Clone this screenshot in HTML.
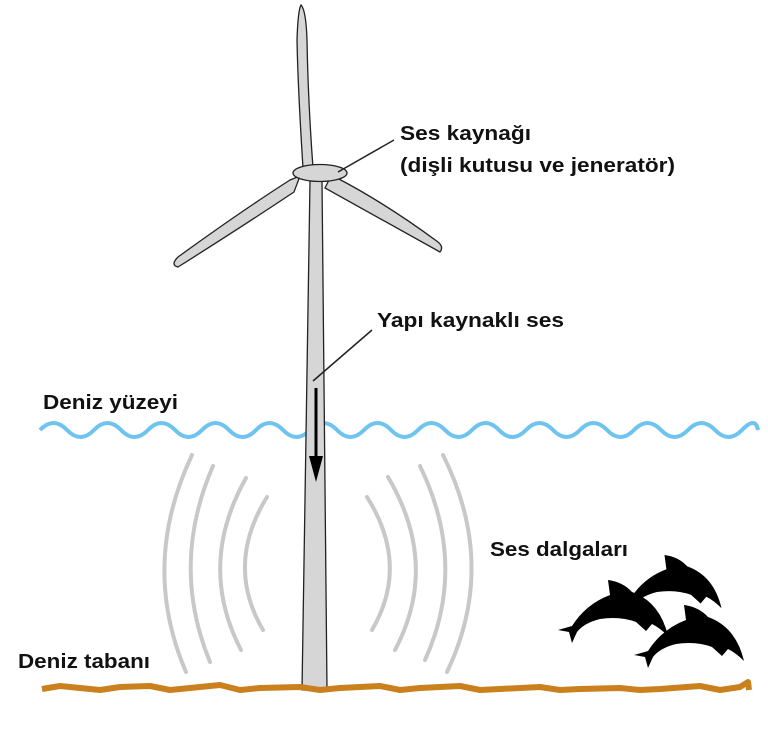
<!DOCTYPE html>
<html><head><meta charset="utf-8"><style>
html,body{margin:0;padding:0;background:#fff;}
svg{display:block}
text{font-family:"Liberation Sans",sans-serif;font-weight:bold;font-size:20px;fill:#111}
</style></head><body>
<svg width="768" height="733" viewBox="0 0 768 733" xmlns="http://www.w3.org/2000/svg">
<defs>
<path id="dol" d="M0,50 L14,46 Q28,24 52,15 L50,0 Q65,2 74,12 Q102,22 110,56 Q102,48 94,44 L88,51 L78,42 Q62,36 42,39 Q26,43 19,52 L14,63 L11,52 Z" fill="#000"/>
</defs>
<path d="M40,430 q13.5,-14 27,0 t27,0 t27,0 t27,0 t27,0 t27,0 t27,0 t27,0 t27,0 t27,0 t27,0 t27,0 t27,0 t27,0 t27,0 t27,0 t27,0 t27,0 t27,0 t27,0 t27,0 t27,0 t27,0 t27,0 t27,0 t27,0 t16,0" fill="none" stroke="#6ec3ef" stroke-width="4"/>
<g fill="none" stroke="#c8c8c8" stroke-width="4" stroke-linecap="round">
<path d="M192,455 Q140,565 186,672"/>
<path d="M213,466 Q170,565 210,662"/>
<path d="M246,478 Q197,565 241,650"/>
<path d="M267,497 Q225,565 263,630"/>
<path d="M367,497 Q410,565 372,630"/>
<path d="M388,477 Q440,565 395,650"/>
<path d="M420,466 Q468,565 425,660"/>
<path d="M443,455 Q498,565 447,672"/>
</g>
<g fill="#d6d6d6" stroke="#222" stroke-width="1.3">
<path d="M303,168 Q298,90 297,40 Q298,10 301,5 Q306,10 307,40 Q308,100 313,168 Z"/>
<path d="M300,176 L294,192 Q240,228 178,267 Q170,265 178,257 Q240,212 290,180 Z"/>
<path d="M330,178 L325,188 Q390,224 440,252 Q444,247 438,242 Q385,203 337,178 Z"/>
</g>
<path d="M310,181 L322,181 L327,690 L302,690 Z" fill="#d6d6d6" stroke="#222" stroke-width="1.3"/>
<ellipse cx="320" cy="173" rx="27" ry="8.5" fill="#d6d6d6" stroke="#222" stroke-width="1.3"/>
<line x1="316" y1="388" x2="316" y2="458" stroke="#000" stroke-width="3"/>
<path d="M309,456 L323,456 L316,482 Z" fill="#000"/>
<line x1="338" y1="172" x2="394" y2="140" stroke="#222" stroke-width="1.5"/>
<line x1="313" y1="381" x2="372" y2="330" stroke="#222" stroke-width="1.5"/>
<path d="M42,689 L60,686 L80,688 L100,690 L120,687 L150,686 L170,690 L190,688 L220,685 L240,690 L260,688 L300,687 L320,690 L340,688 L380,686 L400,690 L420,688 L460,686 L480,690 L500,689 L540,687 L560,690 L580,689 L620,688 L640,690 L660,689 L700,686 L720,690 L740,687 L748,682 L749,690" fill="none" stroke="#c9801d" stroke-width="6" stroke-linejoin="round"/>
<use href="#dol" transform="translate(617,555) scale(0.95)"/>
<use href="#dol" transform="translate(558,580) scale(1)"/>
<use href="#dol" transform="translate(634,605) scale(1)"/>
<text x="400" y="140" textLength="131" lengthAdjust="spacingAndGlyphs">Ses kaynağı</text>
<text x="400" y="172" textLength="275" lengthAdjust="spacingAndGlyphs">(dişli kutusu ve jeneratör)</text>
<text x="377" y="327" textLength="187" lengthAdjust="spacingAndGlyphs">Yapı kaynaklı ses</text>
<text x="43" y="409" textLength="135" lengthAdjust="spacingAndGlyphs">Deniz yüzeyi</text>
<text x="490" y="556" textLength="138" lengthAdjust="spacingAndGlyphs">Ses dalgaları</text>
<text x="18" y="668" textLength="132" lengthAdjust="spacingAndGlyphs">Deniz tabanı</text>
</svg>
</body></html>
